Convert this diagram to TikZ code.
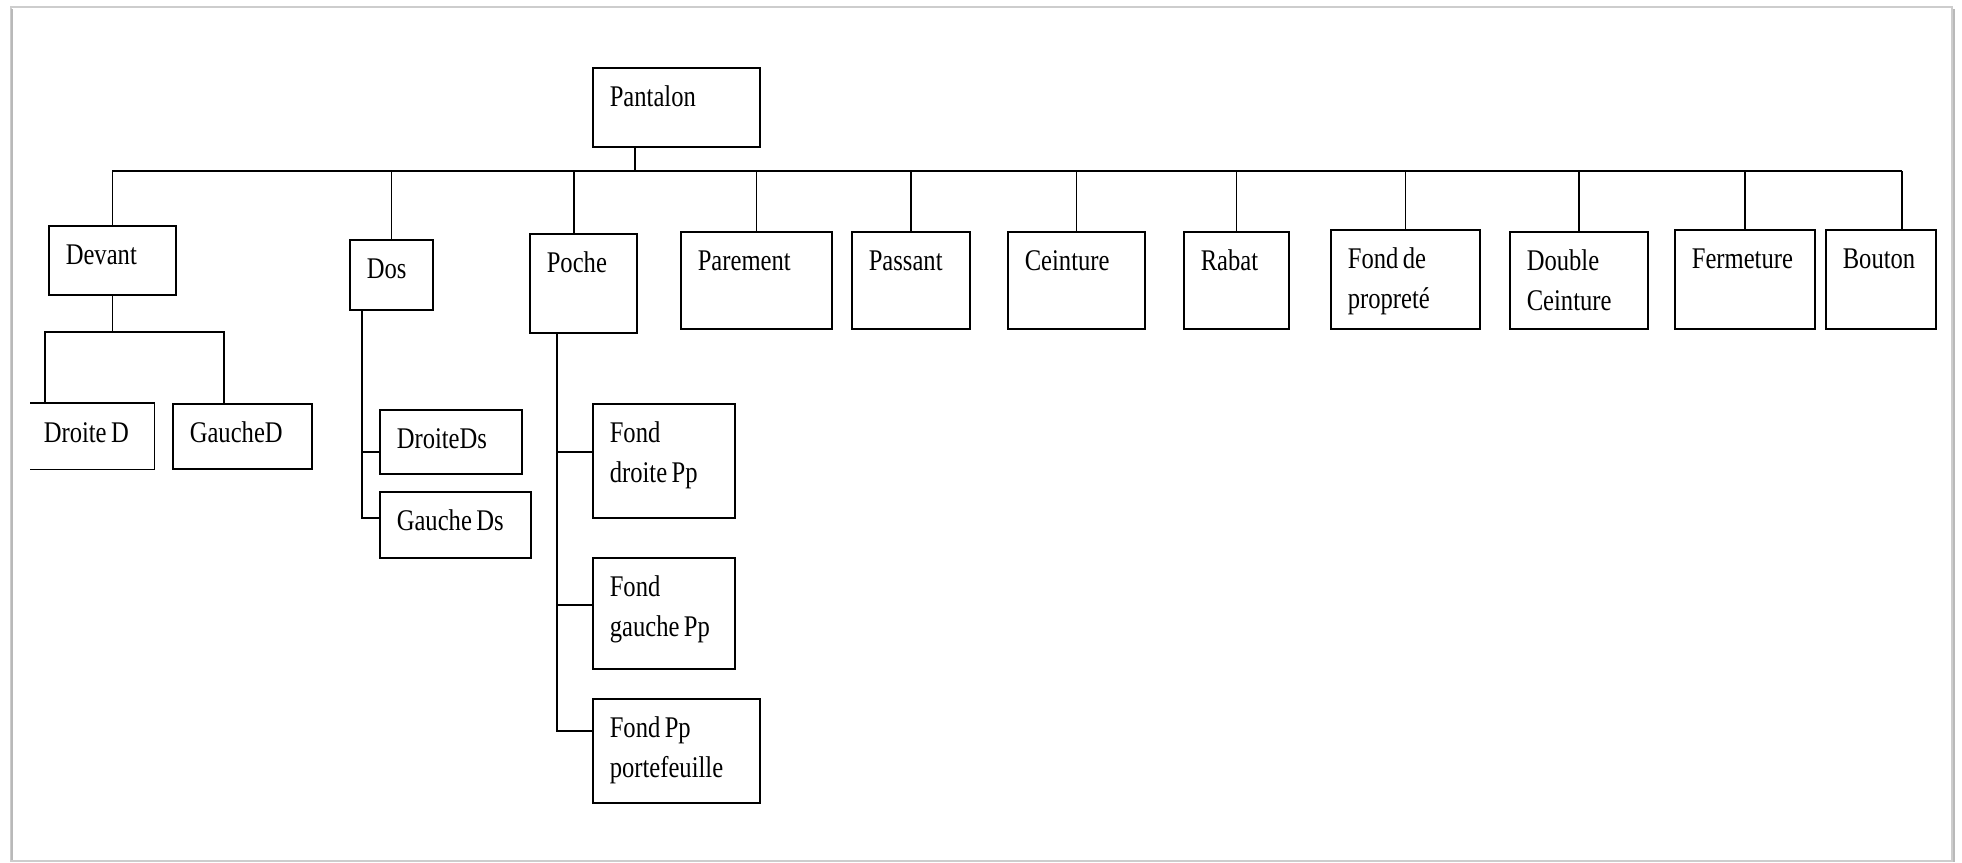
\documentclass[tikz,border=0pt]{standalone}
\usepackage{fontspec}
\setmainfont{Liberation Serif}[FakeStretch=0.82]
\definecolor{framegray}{RGB}{205,205,205}
\definecolor{shadegray}{RGB}{185,185,185}
\newcommand{\boxfont}{\fontsize{15}{20}\selectfont}
\newcommand{\wsp}{\hspace{2.2pt}}

\begin{document}
\begin{tikzpicture}[x=0.5pt, y=-0.5pt,
  blk/.style={draw, line width=0.8pt, anchor=north west, inner xsep=8.5pt, inner ysep=0pt,
    align=left, font=\boxfont, text height=19.25pt},
  lnk/.style={line width=0.8pt}]
\useasboundingbox (0,0) rectangle (1962,862);
%--- cadre ---
\draw[framegray, line width=1.2pt] (11,7) rectangle (1952,861);
\draw[shadegray, line width=1.4pt] (1954,9) -- (1954,862);
\draw[shadegray, line width=1.2pt] (12,9) -- (12,860);
%--- racine ---
\node[blk, text width=66.5pt, text depth=20.25pt] (pantalon) at (592,67) {Pantalon};
\coordinate (bus) at (0,171);
\coordinate (dvbus) at (0,332);
%--- niveau 1 ---
\node[blk, text width=46.5pt, text depth=15.25pt] (devant) at (48,225) {Devant};
\node[blk, text width=24.5pt, text depth=15.75pt] (dos) at (349,239) {Dos};
\node[blk, text width=36.5pt, text depth=30.25pt] (poche) at (529,233) {Poche};
\node[blk, text width=58.5pt, text depth=29.25pt] (parement) at (680,231) {Parement};
\node[blk, text width=42pt, text depth=29.25pt] (passant) at (851,231) {Passant};
\node[blk, text width=51.5pt, text depth=29.25pt] (ceinture) at (1007,231) {Ceinture};
\node[blk, text width=35.5pt, text depth=29.25pt] (rabat) at (1183,231) {Rabat};
\node[blk, text width=57.5pt, text depth=30.25pt] (fondprop) at (1330,229) {Fond\wsp de\\propreté};
\node[blk, text width=52pt, text depth=29.25pt] (dblceint) at (1509,231) {Double\\Ceinture};
\node[blk, text width=53pt, text depth=30.25pt] (fermeture) at (1674,229) {Fermeture};
\node[blk, text width=38pt, text depth=30.25pt] (bouton) at (1825,229) {Bouton};
% liaisons racine
\draw[lnk] ([xshift=-20.75pt]pantalon.south) -- ([xshift=-20.75pt]pantalon.south |- bus);
\draw[lnk] (devant.north |- bus) -- ([xshift=10.5pt]bouton.north |- bus);
\foreach \n in {devant,dos,parement,passant,ceinture,rabat,fondprop,dblceint,fermeture}
  \draw[lnk] (\n.north) -- (\n.north |- bus);
\draw[lnk] ([xshift=-4.75pt]poche.north) -- ([xshift=-4.75pt]poche.north |- bus);
\draw[lnk] ([xshift=10.5pt]bouton.north) -- ([xshift=10.5pt]bouton.north |- bus);
%--- Devant ---
\node[blk, draw=none, text width=48.5pt, text depth=13.25pt, inner xsep=6.5pt] (droited) at (30,403) {Droite\wsp D};
\draw[lnk] (droited.north west) -- (droited.north east) -- (droited.south east) -- (droited.south west);
\node[blk, text width=52.5pt, text depth=13.25pt] (gauched) at (172,403) {GaucheD};
\coordinate (dl) at ([xshift=-23.75pt]droited.north);
\coordinate (dr) at ([xshift=-9.25pt]gauched.north);
\draw[lnk] (devant.south) -- (devant.south |- dvbus);
\draw[lnk] (dl) -- (dl |- dvbus) -- (dr |- dvbus) -- (dr);
%--- Dos ---
\node[blk, text width=54pt, text depth=12.75pt] (droiteds) at (379,409) {DroiteDs};
\node[blk, text width=58.5pt, text depth=13.75pt] (gaucheds) at (379,491) {Gauche\wsp Ds};
\draw[lnk] ([xshift=-14.75pt]dos.south) |- ([yshift=3.5pt]gaucheds.west);
\draw[lnk] ([xshift=-14.75pt]dos.south) |- ([yshift=-5pt]droiteds.west);
%--- Poche ---
\node[blk, text width=54pt, text depth=37.75pt] (fonddroite) at (592,403) {Fond\\droite\wsp Pp};
\node[blk, text width=54pt, text depth=36.25pt] (fondgauche) at (592,557) {Fond\\gauche\wsp Pp};
\node[blk, text width=66.5pt, text depth=32.75pt] (fondporte) at (592,698) {Fond\wsp Pp\\portefeuille};
\draw[lnk] ([xshift=-13.25pt]poche.south) |- ([yshift=10pt]fondporte.west);
\draw[lnk] ([xshift=-13.25pt]poche.south) |- ([yshift=4.5pt]fonddroite.west);
\draw[lnk] ([xshift=-13.25pt]poche.south) |- ([yshift=4.25pt]fondgauche.west);
\end{tikzpicture}
\end{document}
